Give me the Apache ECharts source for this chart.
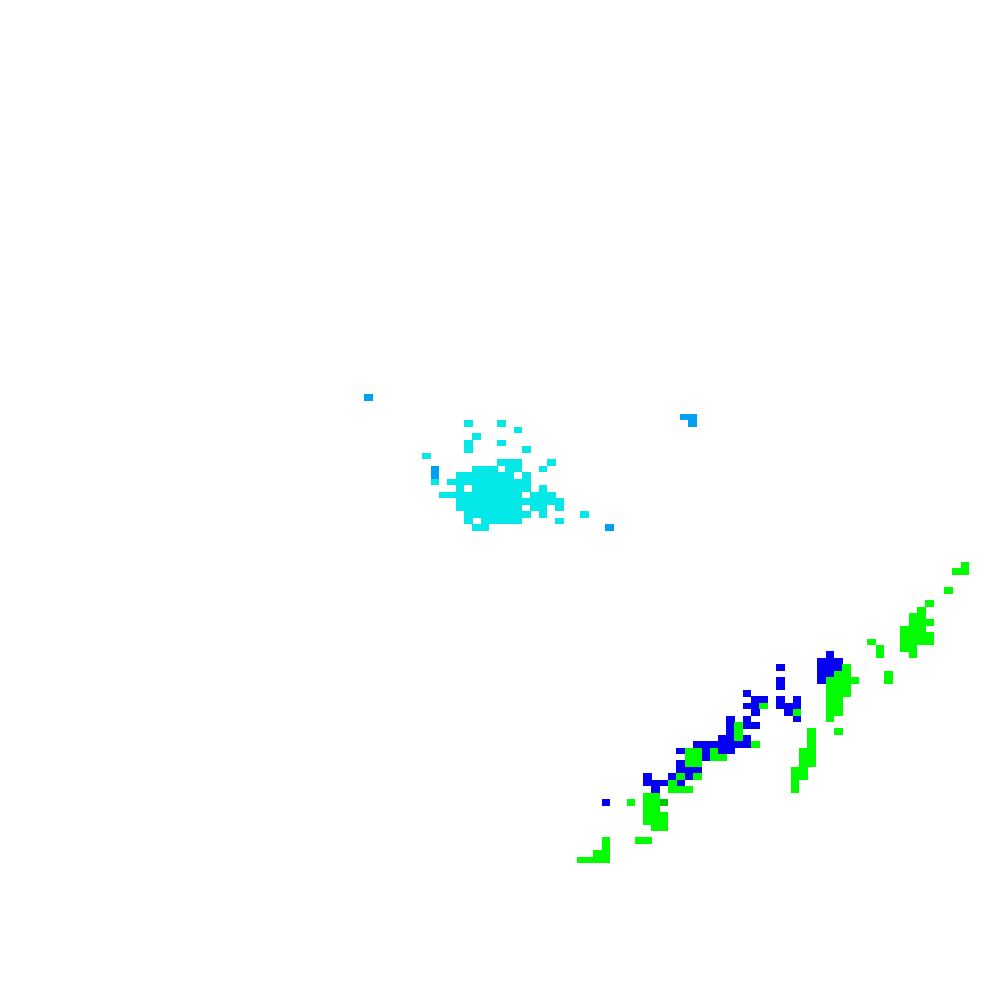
<!DOCTYPE html>
<html><head><meta charset="utf-8">
<style>html,body{margin:0;padding:0;background:#fff}#c{width:1000px;height:1000px}</style>
<script src="https://cdn.jsdelivr.net/npm/echarts@6/dist/echarts.min.js"></script>
</head><body><div id="c"></div>
<script>
// Each cell is [column, row]; rows are written as [row, [columns...]]
const skyRows = [[60,[44]],[63,[82,83]],[64,[83]],[71,[52]],[72,[52]],[80,[73]]];
const cyanRows = [
 [64,[56,60]],[65,[62]],[66,[57]],[67,[56,60]],[68,[56,63]],[69,[51]],
 [70,[60,61,62,66]],[71,[57,58,59,61,62,65]],[72,[55,56,57,58,59,60,61,63]],
 [73,[52,54,55,56,57,58,59,60,61,62,63]],[74,[55,57,58,59,60,61,62,63,65]],
 [75,[53,54,55,56,57,58,59,60,61,62,64,65,66]],
 [76,[55,56,57,58,59,60,61,62,63,64,65,66,67]],
 [77,[55,56,57,58,59,60,61,62,64,65,67]],
 [78,[56,57,58,59,60,61,62,63,65,70]],[79,[56,58,59,60,61,62,67]],[80,[57,58]]
];
const blueRows = [
 [14,[30]],[15,[29,30,31]],[16,[24,29,30,31]],[17,[29,30]],[18,[24,29]],[19,[24]],
 [20,[20]],[21,[21,22,24,26]],[22,[20,21,24,25,26]],[23,[21,25]],[24,[18,20,26]],
 [25,[18,20,21]],[26,[18]],[27,[17,18,20]],[28,[14,15,16,17,18,19,20]],
 [29,[12,15,17,18]],[30,[15]],[31,[12]],[32,[12,13,14]],[33,[8,11,13]],
 [34,[8,9,10,12]],[35,[9]],[37,[3]]
];
const greenRows = [
 [6,[42]],[7,[41]],[8,[40,41]],[9,[40,41,42]],
 [10,[39,40,41]],[11,[39,40,41,42]],[12,[35,39,40,41,42]],[13,[36,39,40]],[14,[36,40]],
 [16,[32]],[17,[31,32,37]],[18,[30,31,32,33,37]],[19,[30,31,32]],[20,[30,31,32]],
 [21,[30,31]],[22,[22,30,31]],[23,[26,30,31]],[24,[30]],[25,[19]],[26,[19,31]],
 [27,[19]],[28,[21]],[29,[13,14,16]],[30,[13,14,16,17]],
 [31,[13,14]],[33,[12,14]],[34,[11]],[35,[11,12,13]],
 [36,[8,9]],[37,[6,8,9]],[38,[8,9]],[39,[8,9,10]],[40,[8,9,10]],[41,[9,10]],
 [43,[3,7,8]],[44,[3]],[45,[2,3]],[46,[0,1,2,3]]
];
const greenSouthRows = [
 [26,[28]],[27,[28]],[28,[28]],[29,[27,28]],[30,[27,28]],[31,[27,28]],
 [32,[26,27]],[33,[26,27]],[34,[26]],[35,[26]]
];
const greenEastRows = [[0,[46]],[1,[45,46]],[4,[44]]];
const darkGreenRows = [[37,[10]]];

const flat = rows => rows.flatMap(([r, cols]) => cols.map(c => [c, r]));
const cellSpan = 1.04;

const renderCell = (params, api) => {
  const x = api.value(0), y = api.value(1);
  const a = api.coord([x, y]), b = api.coord([x + cellSpan, y + cellSpan]);
  const x0 = Math.round(a[0]), y0 = Math.round(a[1]);
  return {
    type: 'rect',
    shape: {x: x0, y: y0, width: Math.round(b[0]) - x0, height: Math.round(b[1]) - y0},
    style: {fill: api.visual('color')}
  };
};
const cellSeries = (rows, color, idx) => ({
  type: 'custom', coordinateSystem: 'cartesian2d', xAxisIndex: idx, yAxisIndex: idx,
  data: flat(rows), renderItem: renderCell, itemStyle: {color},
  encode: {x: 0, y: 1}, silent: true, animation: false, clip: false
});
const hiddenAxis = extra => Object.assign({type: 'value', show: false, scale: true,
  splitLine: {show: false}}, extra);
const fullGrid = {left: 0, right: 0, top: 0, bottom: 0};

const chart = echarts.init(document.getElementById('c'), null, {renderer: 'canvas'});
chart.setOption({
  backgroundColor: '#ffffff',
  animation: false,
  grid: [fullGrid, fullGrid, fullGrid, fullGrid],
  xAxis: [
    hiddenAxis({gridIndex: 0, min: 0.10, max: 120.58}),
    hiddenAxis({gridIndex: 1, min: -69.49, max: 50.99}),
    hiddenAxis({gridIndex: 2, min: -69.25, max: 51.23}),
    hiddenAxis({gridIndex: 3, min: -69.73, max: 50.75})
  ],
  yAxis: [
    hiddenAxis({gridIndex: 0, inverse: true, min: -0.615, max: 153.23}),
    hiddenAxis({gridIndex: 1, inverse: true, min: -87.64, max: 68.37}),
    hiddenAxis({gridIndex: 2, inverse: true, min: -87.64, max: 68.37}),
    hiddenAxis({gridIndex: 3, inverse: true, min: -87.64, max: 68.37})
  ],
  series: [
    cellSeries(cyanRows, '#04e9e7', 0),
    cellSeries(skyRows, '#019ff4', 0),
    cellSeries(blueRows, '#0300f4', 1),
    cellSeries(greenRows, '#02fd02', 1),
    cellSeries(greenSouthRows, '#02fd02', 2),
    cellSeries(greenEastRows, '#02fd02', 3),
    cellSeries(darkGreenRows, '#01c501', 1)
  ]
});
</script></body></html>
